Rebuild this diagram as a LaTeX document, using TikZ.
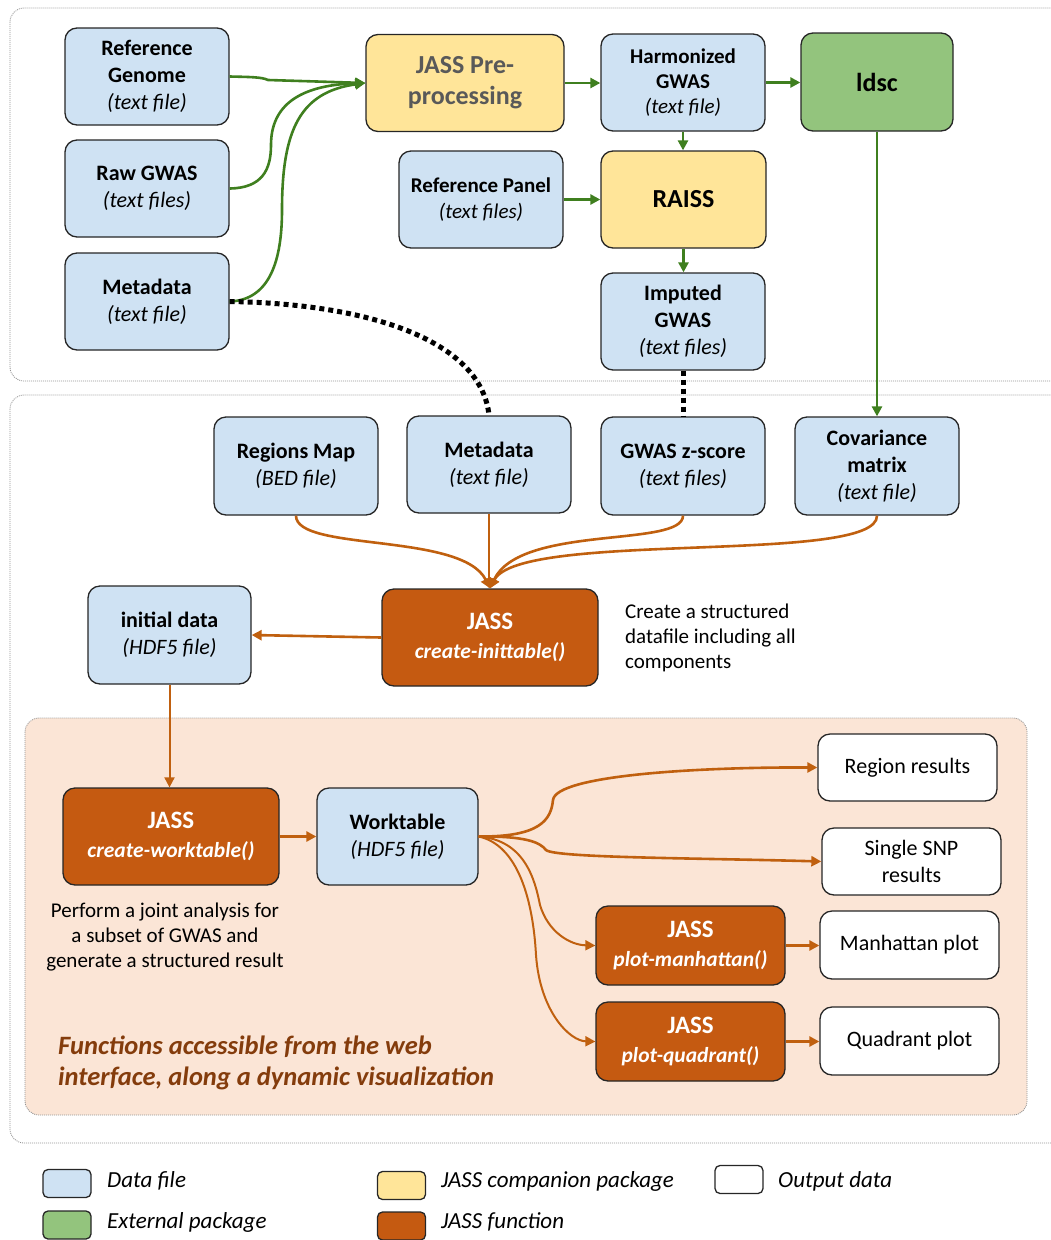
\documentclass[tikz,border=0pt]{standalone}
\usepackage{fontspec}
\setmainfont{Carlito}
\usetikzlibrary{arrows.meta}
\definecolor{dataBlue}{HTML}{CFE2F3}
\definecolor{compYellow}{HTML}{FFE599}
\definecolor{extGreen}{HTML}{93C47D}
\definecolor{fnOrange}{HTML}{C55A11}
\definecolor{peach}{HTML}{FBE5D6}
\definecolor{boxline}{HTML}{262626}
\definecolor{arrGreen}{HTML}{3F7F1F}
\definecolor{arrOrange}{HTML}{C0600F}
\definecolor{brownText}{HTML}{843C0C}
\definecolor{grayText}{HTML}{595959}
\newcommand{\jass}{{\fontsize{25}{28}\selectfont\bfseries JASS}}
\begin{document}
\begin{tikzpicture}[x=1pt,y=-1pt,
  box/.style={draw=boxline, line width=1.3pt, rounded corners=12pt, align=center, inner sep=0pt},
  datab/.style={box, fill=dataBlue, font=\fontsize{22}{27}\selectfont},
  compb/.style={box, fill=compYellow, font=\fontsize{26}{31}\selectfont\bfseries},
  extb/.style={box, fill=extGreen, font=\fontsize{26}{30}\selectfont\bfseries},
  fnb/.style={box, fill=fnOrange, text=white, font=\fontsize{21.5}{29}\selectfont},
  outb/.style={box, fill=white, font=\fontsize{22}{27}\selectfont},
  legb/.style={draw=boxline, line width=1.3pt, rounded corners=5pt, minimum width=48pt, minimum height=28pt, inner sep=0pt},
  legt/.style={anchor=west, font=\fontsize{23}{25}\selectfont\itshape, inner sep=0pt},
  zone/.style={draw=gray!85, line width=0.8pt, dash pattern=on 1pt off 1pt, rounded corners=14pt},
  garr/.style={draw=arrGreen, line width=2.6pt, -{Triangle[length=10pt,width=10pt]}},
  oarr/.style={draw=arrOrange, line width=2.6pt, -{Triangle[length=10pt,width=10pt]}},
  dots/.style={draw=black, line width=5pt, dash pattern=on 5pt off 4pt},
  note/.style={font=\fontsize{21}{25}\selectfont, inner sep=0pt}
]
\useasboundingbox (0,0) rectangle (1051,1240);
\clip (0,0) rectangle (1051,1240);

% zones
\draw[zone] (10,8) rectangle (1075,381);
\draw[zone] (10,395) rectangle (1075,1143);
\draw[zone, fill=peach] (25,718) rectangle (1027,1115);

% top section nodes
\node[datab, minimum width=164pt, minimum height=97pt] (rg) at (147,76.5) {\textbf{Reference}\\\textbf{Genome}\\\textit{(text file)}};
\node[datab, minimum width=164pt, minimum height=97pt] (raw) at (147,188.5) {\textbf{Raw GWAS}\\\textit{(text files)}};
\node[datab, minimum width=164pt, minimum height=97pt] (meta1) at (147,301.5) {\textbf{Metadata}\\\textit{(text file)}};
\node[compb, text=grayText, minimum width=198pt, minimum height=97pt] (jp) at (465,83) {JASS Pre-\\processing};
\node[datab, font=\fontsize{21}{25}\selectfont, minimum width=164pt, minimum height=97pt] (hg) at (683,82.5) {\textbf{Harmonized}\\\textbf{GWAS}\\\textit{(text file)}};
\node[extb, minimum width=152pt, minimum height=98pt] (ldsc) at (877,82) {ldsc};
\node[datab, font=\fontsize{21}{26}\selectfont, minimum width=164pt, minimum height=97pt] (rp) at (481,199.5) {\textbf{Reference Panel}\\\textit{(text files)}};
\node[compb, minimum width=165pt, minimum height=97pt] (raiss) at (683.5,199.5) {RAISS};
\node[datab, minimum width=164pt, minimum height=97pt] (imp) at (683,321.5) {\textbf{Imputed}\\\textbf{GWAS}\\\textit{(text files)}};

% middle section nodes
\node[datab, minimum width=164pt, minimum height=98pt] (rm) at (296,466) {\textbf{Regions Map}\\\textit{(BED file)}};
\node[datab, minimum width=164pt, minimum height=97pt] (meta2) at (489,464.5) {\textbf{Metadata}\\\textit{(text file)}};
\node[datab, minimum width=164pt, minimum height=98pt] (gz) at (683,466) {\textbf{GWAS z-score}\\\textit{(text files)}};
\node[datab, minimum width=164pt, minimum height=98pt] (cov) at (877,466) {\textbf{Covariance}\\\textbf{matrix}\\\textit{(text file)}};
\node[fnb, minimum width=216pt, minimum height=97pt] (jci) at (490,637.5) {\jass\\\textbf{\textit{create-inittable()}}};
\node[datab, minimum width=163pt, minimum height=98pt] (init) at (169.5,635) {\textbf{initial data}\\\textit{(HDF5 file)}};
\node[note, anchor=west, align=left] (ntA) at (625,637.5) {Create a structured\\datafile including all\\components};

% bottom section nodes
\node[fnb, minimum width=216pt, minimum height=97pt] (jcw) at (171,836.5) {\jass\\\textbf{\textit{create-worktable()}}};
\node[datab, minimum width=161pt, minimum height=97pt] (wt) at (397.5,836.5) {\textbf{Worktable}\\\textit{(HDF5 file)}};
\node[note, align=center] (ntB) at (165,937) {Perform a joint analysis for\\a subset of GWAS and\\generate a structured result};
\node[outb, minimum width=179pt, minimum height=67pt] (rr) at (907.5,767.5) {Region results};
\node[outb, minimum width=179pt, minimum height=67pt] (ss) at (911.5,861.5) {Single SNP\\results};
\node[fnb, minimum width=189pt, minimum height=79pt] (pm) at (690.5,945.5) {\jass\\\textbf{\textit{plot-manhattan()}}};
\node[outb, minimum width=179pt, minimum height=68pt] (mp) at (909.5,945) {Manhattan plot};
\node[fnb, minimum width=189pt, minimum height=79pt] (pq) at (690.5,1041.5) {\jass\\\textbf{\textit{plot-quadrant()}}};
\node[outb, minimum width=179pt, minimum height=68pt] (qp) at (909.5,1041) {Quadrant plot};
\node[anchor=west, align=left, inner sep=0pt, text=brownText, font=\fontsize{26.5}{31}\selectfont\bfseries\itshape] (ttl) at (58,1062.5) {Functions accessible from the web\\interface, along a dynamic visualization};

% legend
\node[legb, fill=dataBlue] (l1) at (67,1183.5) {};
\node[legt] (l1t) at (107,1181) {Data file};
\node[legb, fill=extGreen] (l2) at (67,1225) {};
\node[legt] (l2t) at (107,1222) {External package};
\node[legb, fill=compYellow] (l3) at (401.5,1185.5) {};
\node[legt] (l3t) at (441,1181) {JASS companion package};
\node[legb, fill=fnOrange] (l4) at (401.5,1226) {};
\node[legt] (l4t) at (441,1222) {JASS function};
\node[legb, fill=white] (l5) at (739,1179.5) {};
\node[legt] (l5t) at (778,1181) {Output data};

% green connectors
\coordinate (jpin) at (jp.west);
\draw[garr] (rg.east) .. controls (250,77) and (262,77) .. (268,80) -- (jpin);
\draw[garr] (raw.east) .. controls (262,188) and (271,170) .. (271,145) .. controls (271,105) and (300,85) .. (jpin);
\draw[garr] (meta1.east) .. controls (270,300) and (282,260) .. (282,210) .. controls (282,130) and (300,92) .. (jpin);
\draw[garr] (jp.east) -- (jp.east -| hg.west);
\draw[garr] (hg.east) -- (hg.east -| ldsc.west);
\draw[garr] (hg.south) -- (hg.south |- raiss.north);
\draw[garr] (rp.east) -- (rp.east -| raiss.west);
\draw[garr] (raiss.south) -- (raiss.south |- imp.north);
\draw[garr] (ldsc.south) -- (ldsc.south |- cov.north);

% dotted connectors
\draw[dots] (meta1.east) .. controls (380,304) and (482,345) .. (meta2.north);
\draw[dots] (imp.south) -- (imp.south |- gz.north);

% orange connectors
\coordinate (jcin) at (jci.north);
\draw[oarr] (rm.south) .. controls (296,552) and (462,532) .. (jcin);
\draw[oarr] (meta2.south) -- (meta2.south |- jci.north);
\draw[oarr] (gz.south) .. controls (683,548) and (520,524) .. (jcin);
\draw[oarr] (cov.south) .. controls (878,565) and (520,530) .. (jcin);
\draw[oarr] (jci.west) -- (init.east);
\draw[oarr, line width=2pt] (init.south) -- (init.south |- jcw.north);
\draw[oarr] (jcw.east) -- (jcw.east -| wt.west);
\draw[oarr] (wt.east) .. controls (540,837) and (551,820) .. (553,800) .. controls (556,775) and (700,767) .. (rr.west);
\draw[oarr] (wt.east) .. controls (525,836) and (540,842) .. (546,850) .. controls (555,858) and (700,858) .. (ss.west);
\draw[oarr, line width=2pt] (wt.east) .. controls (525,840) and (535,880) .. (540,905) .. controls (548,932) and (570,945) .. (pm.west);
\draw[oarr, line width=2pt] (wt.east) .. controls (518,845) and (533,900) .. (536,955) .. controls (540,1012) and (570,1041) .. (pq.west);
\draw[oarr] (pm.east) -- (pm.east -| mp.west);
\draw[oarr] (pq.east) -- (pq.east -| qp.west);
\end{tikzpicture}
\end{document}
